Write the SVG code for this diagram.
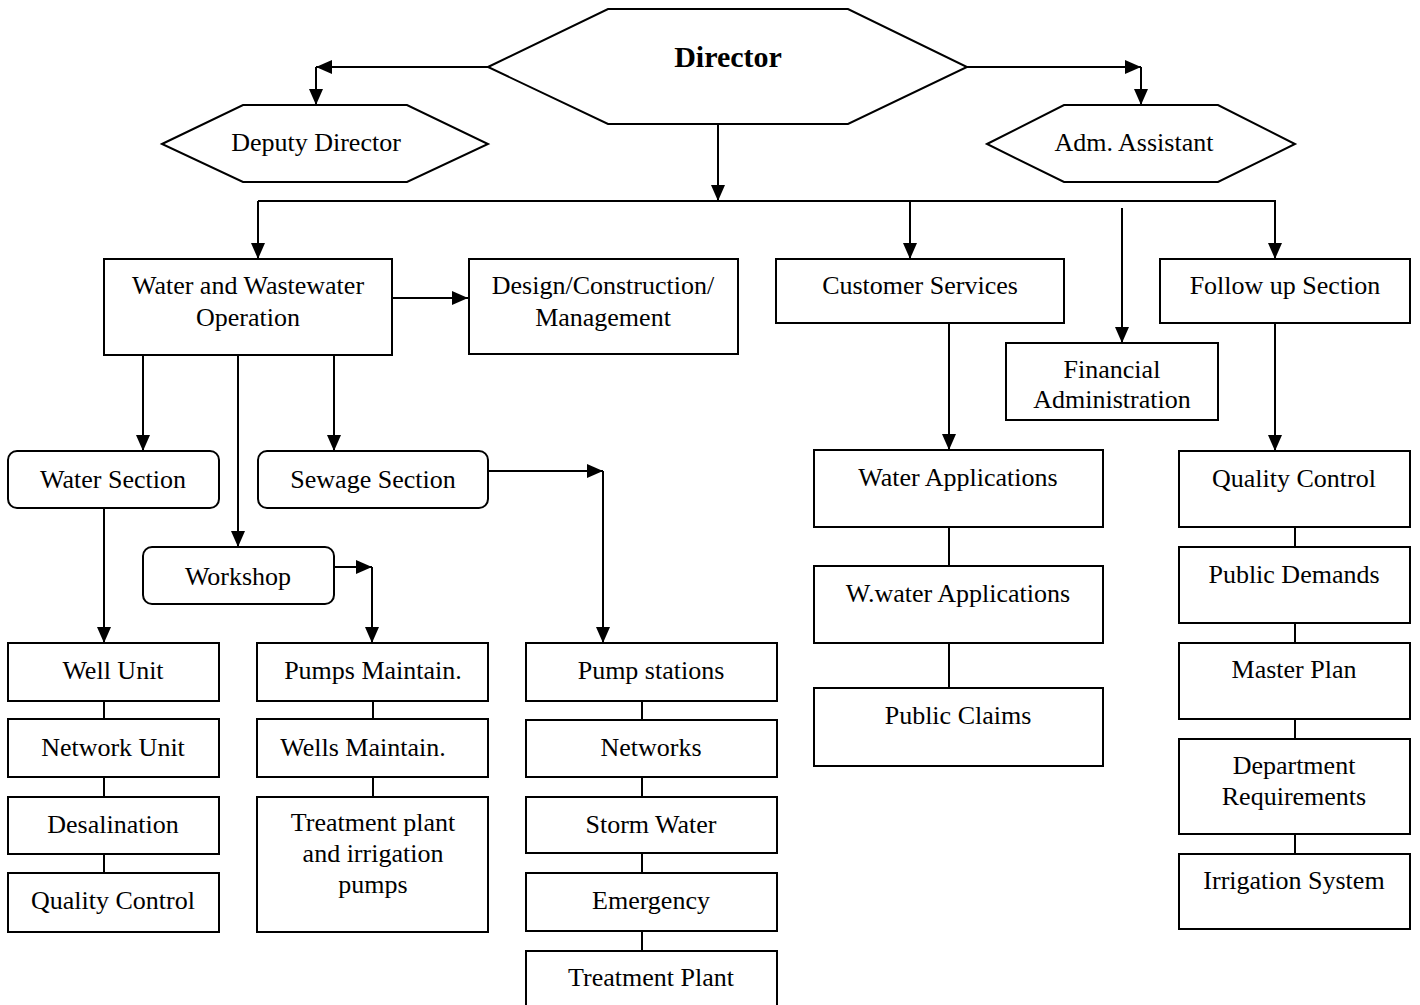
<svg xmlns="http://www.w3.org/2000/svg" width="1420" height="1005" viewBox="0 0 1420 1005">
  <style>
    .box { fill: #fff; stroke: #000; stroke-width: 2; }
    .ln { fill: none; stroke: #000; stroke-width: 2; }
    .arr { fill: none; stroke: #000; stroke-width: 2; marker-end: url(#head); }
    text { font-family: "Liberation Serif", "Times New Roman", serif; font-size: 26px; fill: #000; text-anchor: middle; }
    .title { font-size: 30px; font-weight: bold; }
  </style>
  <defs>
    <marker id="head" viewBox="0 0 16 14" refX="16" refY="7" markerWidth="16" markerHeight="14" markerUnits="userSpaceOnUse" orient="auto">
      <path d="M0,0 L16,7 L0,14 z" fill="#000"/>
    </marker>
  </defs>
  <rect width="1420" height="1005" fill="#fff"/>

  <!-- connectors -->
  <g id="connectors">
    <!-- director to deputy and assistant -->
    <path class="arr" d="M488,67 H316"/>
    <path class="arr" d="M316,67 V105"/>
    <path class="arr" d="M967,67 H1141"/>
    <path class="arr" d="M1141,67 V105"/>
    <!-- director to department bus -->
    <path class="arr" d="M718,124 V201"/>
    <path class="ln" d="M258,201 H1276"/>
    <path class="arr" d="M258,201 V259"/>
    <path class="arr" d="M910,201 V259"/>
    <path class="arr" d="M1275,201 V259"/>
    <path class="arr" d="M1122,208 V343"/>
    <!-- operation branch -->
    <path class="arr" d="M392,298 H468"/>
    <path class="arr" d="M143,355 V451"/>
    <path class="arr" d="M238,355 V547"/>
    <path class="arr" d="M334,355 V451"/>
    <path class="arr" d="M104,508 V643"/>
    <path class="arr" d="M488,471 H603"/>
    <path class="arr" d="M603,471 V643"/>
    <path class="arr" d="M334,567 H372"/>
    <path class="arr" d="M372,567 V643"/>
    <!-- customer services and follow up -->
    <path class="arr" d="M949,323 V450"/>
    <path class="arr" d="M1275,323 V451"/>
    <!-- plain links within columns -->
    <path class="ln" d="M104,701 V719 M104,777 V797 M104,854 V873"/>
    <path class="ln" d="M373,701 V719 M373,777 V797"/>
    <path class="ln" d="M642,701 V720 M642,777 V797 M642,853 V873 M642,931 V951"/>
    <path class="ln" d="M949,527 V566 M949,643 V688"/>
    <path class="ln" d="M1295,527 V547 M1295,623 V643 M1295,719 V739 M1295,834 V854"/>
  </g>

  <!-- top level -->
  <g id="director">
    <polygon class="box" points="488,67 608,9 848,9 967,67 848,124 608,124"/>
    <text class="title" x="728" y="67">Director</text>
  </g>
  <g id="deputy-director">
    <polygon class="box" points="162,144 243,105 407,105 488,144 407,182 243,182"/>
    <text x="316" y="151">Deputy Director</text>
  </g>
  <g id="adm-assistant">
    <polygon class="box" points="987,144 1064,105 1218,105 1295,144 1218,182 1064,182"/>
    <text x="1134" y="151">Adm. Assistant</text>
  </g>

  <!-- departments -->
  <g id="water-wastewater-operation">
    <rect class="box" x="104" y="259" width="288" height="96"/>
    <text x="248" y="294">Water and Wastewater</text>
    <text x="248" y="326">Operation</text>
  </g>
  <g id="design-construction">
    <rect class="box" x="469" y="259" width="269" height="95"/>
    <text x="603" y="294">Design/Construction/</text>
    <text x="603" y="326">Management</text>
  </g>
  <g id="customer-services">
    <rect class="box" x="776" y="259" width="288" height="64"/>
    <text x="920" y="294">Customer Services</text>
  </g>
  <g id="financial-administration">
    <rect class="box" x="1006" y="343" width="212" height="77"/>
    <text x="1112" y="378">Financial</text>
    <text x="1112" y="408">Administration</text>
  </g>
  <g id="follow-up-section">
    <rect class="box" x="1160" y="259" width="250" height="64"/>
    <text x="1285" y="294">Follow up Section</text>
  </g>

  <!-- sections -->
  <g id="water-section">
    <rect class="box" x="8" y="451" width="211" height="57" rx="9"/>
    <text x="113" y="488">Water Section</text>
  </g>
  <g id="sewage-section">
    <rect class="box" x="258" y="451" width="230" height="57" rx="9"/>
    <text x="373" y="488">Sewage Section</text>
  </g>
  <g id="workshop">
    <rect class="box" x="143" y="547" width="191" height="57" rx="9"/>
    <text x="238" y="585">Workshop</text>
  </g>

  <!-- water section units -->
  <g id="well-unit">
    <rect class="box" x="8" y="643" width="211" height="58"/>
    <text x="113" y="679">Well Unit</text>
  </g>
  <g id="network-unit">
    <rect class="box" x="8" y="719" width="211" height="58"/>
    <text x="113" y="756">Network Unit</text>
  </g>
  <g id="desalination">
    <rect class="box" x="8" y="797" width="211" height="57"/>
    <text x="113" y="833">Desalination</text>
  </g>
  <g id="water-quality-control">
    <rect class="box" x="8" y="873" width="211" height="59"/>
    <text x="113" y="909">Quality Control</text>
  </g>

  <!-- workshop units -->
  <g id="pumps-maintain">
    <rect class="box" x="257" y="643" width="231" height="58"/>
    <text x="373" y="679">Pumps Maintain.</text>
  </g>
  <g id="wells-maintain">
    <rect class="box" x="257" y="719" width="231" height="58"/>
    <text x="363" y="756">Wells Maintain.</text>
  </g>
  <g id="treatment-irrigation-pumps">
    <rect class="box" x="257" y="797" width="231" height="135"/>
    <text x="373" y="831">Treatment plant</text>
    <text x="373" y="862">and irrigation</text>
    <text x="373" y="893">pumps</text>
  </g>

  <!-- sewage section units -->
  <g id="pump-stations">
    <rect class="box" x="526" y="643" width="251" height="58"/>
    <text x="651" y="679">Pump stations</text>
  </g>
  <g id="networks">
    <rect class="box" x="526" y="720" width="251" height="57"/>
    <text x="651" y="756">Networks</text>
  </g>
  <g id="storm-water">
    <rect class="box" x="526" y="797" width="251" height="56"/>
    <text x="651" y="833">Storm Water</text>
  </g>
  <g id="emergency">
    <rect class="box" x="526" y="873" width="251" height="58"/>
    <text x="651" y="909">Emergency</text>
  </g>
  <g id="treatment-plant">
    <rect class="box" x="526" y="951" width="251" height="60"/>
    <text x="651" y="986">Treatment Plant</text>
  </g>

  <!-- customer services units -->
  <g id="water-applications">
    <rect class="box" x="814" y="450" width="289" height="77"/>
    <text x="958" y="486">Water Applications</text>
  </g>
  <g id="wwater-applications">
    <rect class="box" x="814" y="566" width="289" height="77"/>
    <text x="958" y="602">W.water Applications</text>
  </g>
  <g id="public-claims">
    <rect class="box" x="814" y="688" width="289" height="78"/>
    <text x="958" y="724">Public Claims</text>
  </g>

  <!-- follow up units -->
  <g id="quality-control">
    <rect class="box" x="1179" y="451" width="231" height="76"/>
    <text x="1294" y="487">Quality Control</text>
  </g>
  <g id="public-demands">
    <rect class="box" x="1179" y="547" width="231" height="76"/>
    <text x="1294" y="583">Public Demands</text>
  </g>
  <g id="master-plan">
    <rect class="box" x="1179" y="643" width="231" height="76"/>
    <text x="1294" y="678">Master Plan</text>
  </g>
  <g id="department-requirements">
    <rect class="box" x="1179" y="739" width="231" height="95"/>
    <text x="1294" y="774">Department</text>
    <text x="1294" y="805">Requirements</text>
  </g>
  <g id="irrigation-system">
    <rect class="box" x="1179" y="854" width="231" height="75"/>
    <text x="1294" y="889">Irrigation System</text>
  </g>
</svg>
